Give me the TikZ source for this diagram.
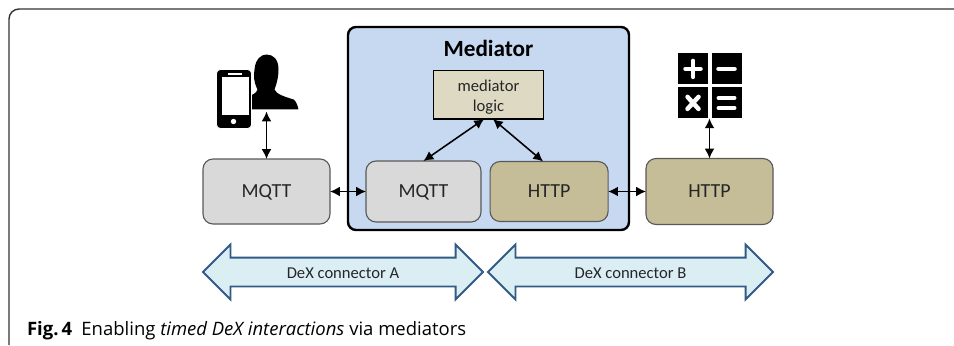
\documentclass[tikz,border=0pt]{standalone}
\usepackage{fontspec}
\setmainfont{Carlito}
\newfontfamily\capfont{Open Sans}
\usetikzlibrary{arrows.meta,shapes.arrows}
\definecolor{medblue}{HTML}{C6D9F1}
\definecolor{boxgray}{HTML}{D9D9D9}
\definecolor{boxtan}{HTML}{C4BD97}
\definecolor{logictan}{HTML}{DDD9C3}
\definecolor{conblue}{HTML}{DBEEF4}
\definecolor{conline}{HTML}{2F5B85}
\definecolor{lettering}{HTML}{262626}
\tikzset{
    graybox/.style={rectangle,rounded corners=0.25cm,draw=black!65,fill=boxgray,line width=0.8pt,outer sep=0pt,text=lettering,text height=0.32cm,text depth=0pt,font=\fontsize{14.2}{17}\selectfont},
    tanbox/.style={graybox,fill=boxtan},
    connector/.style={double arrow,draw=conline,fill=conblue,line width=1.3pt,outer sep=0pt,inner ysep=0.1375cm,minimum width=1.325cm,double arrow head extend=0.325cm,text height=0.35cm,text depth=0.05cm,text=lettering,font=\fontsize{11.8}{14}\selectfont}
}
\begin{document}
\begin{tikzpicture}[
                        >={Latex[length=7pt,width=7pt]}
                    ]
                    \useasboundingbox (0,0) rectangle (23.85,8.625);
                    % Frame
                    \draw [line width=1pt,black!80,rounded corners=0.25cm] (0.225,0) -- (0.225,8.4) -- (23.85,8.4);

                    % Blocks
                    \node [rectangle,rounded corners=0.2cm,draw,fill=medblue,line width=1.7pt,minimum width=7.025cm,minimum height=5.075cm,outer sep=0pt] (mediator) at (12.2125,5.4125) {};
                    \node [rectangle,draw,fill=logictan,line width=0.9pt,minimum width=2.75cm,minimum height=1.2cm,align=center,outer sep=0pt,text=lettering,font=\fontsize{11.8}{14.3}\selectfont,above of=mediator,node distance=0.84cm] (logic) {\rule{0pt}{0.4cm}mediator\\logic};
                    \node [font=\fontsize{16.5}{20}\bfseries\selectfont,above of=logic,node distance=1.15cm] (title) {Mediator};
                    \node [graybox,minimum width=3.175cm,minimum height=1.625cm] (mqttA) at (6.6625,3.8375) {MQTT};
                    \node [graybox,minimum width=2.875cm,minimum height=1.525cm,right of=mqttA,node distance=3.925cm] (mqttM) {MQTT};
                    \node [tanbox,minimum width=2.95cm,minimum height=1.5cm,right of=mqttM,node distance=3.14cm] (httpM) {HTTP};
                    \node [tanbox,minimum width=3.175cm,minimum height=1.65cm,right of=httpM,node distance=4.01cm] (httpB) {HTTP};
                    \node [minimum width=1.5cm,minimum height=1.4cm,outer sep=0pt,above of=mqttA,node distance=2.7cm] (user) {};
                    \node [minimum width=1.625cm,minimum height=1.625cm,outer sep=0pt,above of=httpB,node distance=2.64cm] (calc) {};
                    \node [connector,minimum height=7cm] (conA) at (8.575,1.825) {DeX connector A};
                    \node [connector,minimum height=7.125cm] (conB) at (15.7625,1.825) {DeX connector B};
                    \node [anchor=west,inner sep=0pt,font=\capfont\fontsize{13.15}{16}\selectfont] (caption) at (0.67,0.36) {{\bfseries Fig.\,4}\hspace{0.5em}Enabling \textit{timed DeX interactions} via mediators};

                    % Icons
                    \begin{scope}[shift={(user.center)},x=0.025cm,y=-0.025cm]
                        \fill (-20,26) -- (-20,14) .. controls (-14,11) and (-10,10) .. (-9,6) .. controls (-13,-2) and (-13,-8) .. (-12,-14) .. controls (-11,-25) and (-5,-29) .. (0,-29) .. controls (7,-29) and (12,-24) .. (12,-14) .. controls (12,-8) and (11,-2) .. (8,6) .. controls (10,11) and (18,13) .. (27,16) .. controls (30,18) and (31,22) .. (32,26) -- cycle;
                        \filldraw [draw=white,line width=0.5pt,rounded corners=0.1cm] (-50,-14) rectangle (-15,45);
                        \fill [white] (-45,-7) rectangle (-18,32);
                        \fill [white] (-39,-11) rectangle (-25,-9);
                        \fill [white] (-33,38) circle (2.7);
                    \end{scope}
                    \begin{scope}[shift={(calc.center)},x=0.025cm,y=-0.025cm]
                        \foreach \cellx/\celly in {-32/-32.5,2/-32.5,-32/1.5,2/1.5}
                            \fill (\cellx,\celly) rectangle +(30.5,31);
                        \draw [white,line width=3.2pt,line cap=round] (-24,-17) -- (-9,-17) (-16.5,-25) -- (-16.5,-9);
                        \draw [white,line width=3.2pt,line cap=round] (9,-17) -- (25,-17);
                        \draw [white,line width=3.2pt,line cap=round] (-22,11) -- (-11,23) (-22,23) -- (-11,11);
                        \draw [white,line width=2.8pt,line cap=round] (9,12) -- (25,12) (9,22) -- (25,22);
                    \end{scope}

                    % Connections
                    \draw [<->,line width=1.1pt] (user) -- (mqttA);
                    \draw [<->,line width=1.1pt] (calc) -- (httpB);
                    \draw [<->,line width=1.1pt] (mqttA) -- (mqttM);
                    \draw [<->,line width=1.1pt] (httpM) -- (httpB);
                    \draw [<->,line width=1.1pt] ([xshift=-0.11cm]logic.south) -- (mqttM.north);
                    \draw [<->,line width=1.1pt] ([xshift=0.11cm]logic.south) -- ([xshift=-0.15cm]httpM.north);
                \end{tikzpicture}
\end{document}
